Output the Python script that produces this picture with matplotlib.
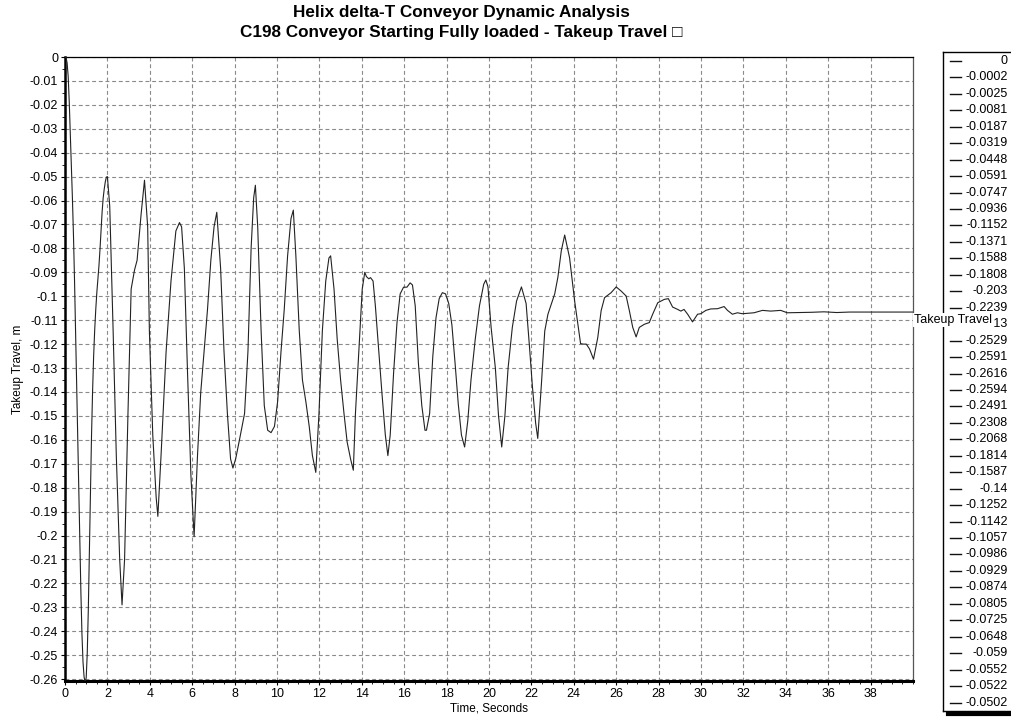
import matplotlib
matplotlib.use("Agg")
import matplotlib.pyplot as plt
import numpy as np
from matplotlib.ticker import FuncFormatter, MultipleLocator

plt.rcParams['font.family'] = ['Liberation Sans', 'DejaVu Sans']

def tick_format(x, pos):
    if abs(x) < 1e-9:
        return "0"
    return f"{round(x, 4):g}"

##### data #####
# first samples of the run, 0.05 s apart (these are also listed in the side table)
start_step = 0.05
start_vals = [0, -0.0002, -0.0025, -0.0081, -0.0187, -0.0319, -0.0448, -0.0591,
              -0.0747, -0.0936, -0.1152, -0.1371, -0.1588, -0.1808, -0.203, -0.2239,
              -0.2413, -0.2529, -0.2591, -0.2616, -0.2594, -0.2491, -0.2308, -0.2068,
              -0.1814, -0.1587, -0.14, -0.1252, -0.1142, -0.1057, -0.0986, -0.0929,
              -0.0874, -0.0805, -0.0725, -0.0648, -0.059, -0.0552, -0.0522, -0.0502]

# rest of the takeup travel trace
trace_t = [2.00, 2.11, 2.27, 2.42, 2.58, 2.69, 2.81, 2.97, 3.12, 3.28, 3.40, 3.59, 3.75,
           3.90, 3.98, 4.14, 4.30, 4.38, 4.53, 4.77, 5.00, 5.23, 5.40, 5.50, 5.63, 5.78,
           5.94, 6.09, 6.25, 6.40, 6.56, 6.72, 6.88, 7.03, 7.16, 7.34, 7.50, 7.66, 7.81,
           7.92, 8.05, 8.23, 8.47, 8.63, 8.78, 8.90, 8.98, 9.09, 9.25, 9.40, 9.56, 9.72,
           9.88, 10.03, 10.19, 10.34, 10.50, 10.66, 10.77, 10.89, 11.05, 11.20, 11.36,
           11.52, 11.67, 11.83, 11.98, 12.14, 12.30, 12.45, 12.53, 12.69, 12.84, 13.00,
           13.16, 13.31, 13.47, 13.60, 13.70, 13.86, 14.02, 14.14, 14.22, 14.33, 14.41,
           14.53, 14.64, 14.80, 14.95, 15.11, 15.23, 15.34, 15.50, 15.66, 15.81, 15.97,
           16.13, 16.28, 16.39, 16.52, 16.67, 16.83, 16.98, 17.05, 17.20, 17.35, 17.50,
           17.65, 17.80, 17.95, 18.10, 18.25, 18.40, 18.55, 18.70, 18.85, 19.00, 19.15,
           19.35, 19.55, 19.75, 19.85, 19.95, 20.10, 20.30, 20.45, 20.60, 20.75, 20.90,
           21.10, 21.30, 21.53, 21.75, 21.90, 22.05, 22.20, 22.30, 22.47, 22.63, 22.78,
           23.10, 23.25, 23.41, 23.57, 23.80, 24.04, 24.19, 24.32, 24.45, 24.59, 24.74,
           24.93, 25.13, 25.29, 25.45, 25.76, 26.00, 26.23, 26.47, 26.62, 26.78, 26.94,
           27.09, 27.33, 27.56, 27.72, 27.96, 28.27, 28.46, 28.66, 28.90, 29.05, 29.20,
           29.37, 29.60, 29.84, 29.99, 30.23, 30.46, 30.78, 31.09, 31.25, 31.48, 31.72,
           31.95, 32.20, 32.50, 32.90, 33.29, 33.76, 34.07, 34.60, 35.20, 35.80, 36.40,
           37.00, 40.00]
trace_v = [-0.0500, -0.0623, -0.1144, -0.1666, -0.2100, -0.2290, -0.2100, -0.1490, -0.0970,
           -0.0890, -0.0850, -0.0657, -0.0515,
           -0.0710, -0.1144, -0.1580, -0.1840, -0.1920, -0.1666, -0.1230, -0.0936, -0.0727,
           -0.0692, -0.0710, -0.0883, -0.1320,
           -0.1750, -0.2005, -0.1666, -0.1405, -0.1230, -0.1057, -0.0849, -0.0710, -0.0649,
           -0.0883, -0.1230, -0.1490, -0.1680,
           -0.1718, -0.1680, -0.1600, -0.1490, -0.1230, -0.0797, -0.0588, -0.0536, -0.0710,
           -0.1144, -0.1457, -0.1560, -0.1570,
           -0.1544, -0.1440, -0.1230, -0.1057, -0.0831, -0.0675, -0.0640, -0.0831, -0.1144,
           -0.1350, -0.1440,
           -0.1544, -0.1666, -0.1736, -0.1490, -0.1144, -0.0936, -0.0840, -0.0831, -0.0970,
           -0.1180, -0.1350,
           -0.1490, -0.1610, -0.1680, -0.1727, -0.1490, -0.1230, -0.0970, -0.0900, -0.0918,
           -0.0927, -0.0922,
           -0.0936, -0.1040, -0.1230, -0.1405, -0.1580, -0.1666, -0.1580, -0.1320, -0.1110,
           -0.0990, -0.0962,
           -0.0962, -0.0944, -0.0953, -0.1040, -0.1280, -0.1457, -0.1560, -0.1560, -0.1490,
           -0.1250, -0.1090,
           -0.1010, -0.0985, -0.0990, -0.1030, -0.1120, -0.1280, -0.1450, -0.1580, -0.1630,
           -0.1520, -0.1350,
           -0.1180, -0.1040, -0.0950, -0.0932, -0.0960, -0.1130, -0.1300, -0.1500, -0.1630,
           -0.1500, -0.1300,
           -0.1130, -0.1020, -0.0961, -0.1030, -0.1200, -0.1380, -0.1530, -0.1594, -0.1370,
           -0.1145, -0.1075,
           -0.0990, -0.0920, -0.0810, -0.0744, -0.0839, -0.1020, -0.1117, -0.1198, -0.1200,
           -0.1200, -0.1220,
           -0.1263, -0.1173, -0.1060, -0.1006, -0.0985, -0.0961, -0.0978, -0.0999, -0.1060,
           -0.1130, -0.1170,
           -0.1130, -0.1117, -0.1110, -0.1075, -0.1027, -0.1013, -0.1010, -0.1045, -0.1055,
           -0.1062, -0.1055,
           -0.1075, -0.1107, -0.1075, -0.1073, -0.1059, -0.1053, -0.1052, -0.1043, -0.1059,
           -0.1075, -0.1069,
           -0.1073, -0.1071, -0.1069, -0.1059, -0.1062, -0.1059, -0.1069, -0.1068, -0.1067,
           -0.1065, -0.1068,
           -0.1066, -0.1066]

series_name = "Takeup Travel"
x_ticks = np.arange(0, 39, 2)

t_all = np.concatenate([np.arange(len(start_vals)) * start_step, trace_t])
v_all = np.concatenate([start_vals, trace_v])

##### figure #####
W, H = 1012, 721
fig = plt.figure(figsize=(W / 100, H / 100), dpi=100)
ax = fig.add_axes([65 / W, 1 - 681 / H, (913 - 65) / W, (681 - 57) / H])
ax.set_zorder(2)

ax.plot(t_all, v_all, color="#222222", lw=0.8, zorder=3)

ax.set_xlim(0, 40)
ax.set_ylim(-0.2608, 0)
ax.set_xticks(x_ticks)
ax.xaxis.set_minor_locator(MultipleLocator(0.5))
ax.yaxis.set_major_locator(MultipleLocator(0.01))
ax.yaxis.set_minor_locator(MultipleLocator(0.005))
ax.yaxis.set_major_formatter(FuncFormatter(tick_format))
ax.tick_params(which="major", direction="out", length=3, width=0.8, labelsize=9, pad=2)
ax.tick_params(which="minor", direction="out", length=2, width=0.6)
ax.grid(True, which="major", color="#8a8a8a", lw=0.8, linestyle=(0, (3.5, 2.5)))

ax.spines["left"].set_linewidth(1.8)
ax.spines["bottom"].set_linewidth(2.2)
ax.spines["top"].set_linewidth(0.9)
ax.spines["right"].set_linewidth(0.9)
ax.spines["right"].set_color("#555555")

ax.set_xlabel("Time, Seconds", fontsize=8.5, labelpad=2)
ax.set_ylabel("Takeup Travel, m", fontsize=8.5, labelpad=4)

# end label of the line, sitting just under the line's last point
ax.annotate(series_name, xy=(40, trace_v[-1]), xytext=(1, -8),
            textcoords="offset pixels", fontsize=9, ha="left", va="center",
            annotation_clip=False, zorder=10,
            bbox=dict(facecolor="white", edgecolor="none", pad=0.6))

fig.text(461 / W, 1 - 13 / H, "Helix delta-T Conveyor Dynamic Analysis",
         ha="center", va="center", fontsize=12.3, fontweight="bold")
fig.text(461 / W, 1 - 32 / H, "C198 Conveyor Starting Fully loaded - Takeup Travel \u25a1",
         ha="center", va="center", fontsize=12.3, fontweight="bold")

##### side table of values #####
lax = fig.add_axes([943 / W, 1 - 711 / H, 80 / W, (711 - 52) / H])
lax.set_zorder(1)
lax.set_xlim(943, 1023)
lax.set_ylim(711, 52)
lax.set_xticks([])
lax.set_yticks([])
lax.spines["right"].set_visible(False)
for s in ["left", "top", "bottom"]:
    lax.spines[s].set_linewidth(1.0)
for i, v in enumerate(start_vals):
    y = 61 + i * 16.45
    lax.plot([950, 961], [y, y], color="#111111", lw=1.0)
    lax.text(1008, y, f"{v:g}", ha="right", va="center", fontsize=9)
lax.plot([948, 1023], [714, 714], color="black", lw=3, clip_on=False)

fig.savefig("out.png", dpi=100)
